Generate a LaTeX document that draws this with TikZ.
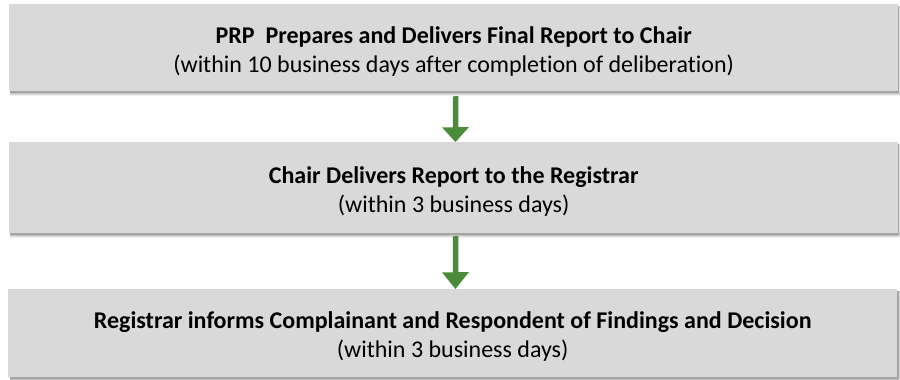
\documentclass[tikz,border=0pt]{standalone}
\usepackage{fontspec}
\setmainfont[Ligatures=NoCommon]{Carlito}
\usetikzlibrary{positioning}
\definecolor{boxgray}{HTML}{D9D9D9}
\definecolor{arrowgreen}{HTML}{4B8B3B}
\newcommand{\lowstrut}{\rule{0pt}{24pt}}
\begin{document}
\begin{tikzpicture}[x=1pt,y=-1pt,
  stagebox/.style={fill=boxgray, draw=none, inner sep=0pt, minimum width=889pt, anchor=north west,
     align=center, font=\fontsize{24}{29}\selectfont},
  flowarrow/.style={fill=arrowgreen, draw=none}]
\useasboundingbox (0,0) rectangle (900,380);
% shadows
\foreach \yt/\yb in {4/91,142/233,289/377}{
  \fill[black,opacity=0.06] (10,\yt+2) rectangle (901,\yb+5);
  \fill[black,opacity=0.08] (10,\yt+2) rectangle (900,\yb+4);
  \fill[black,opacity=0.12] (10,\yt+2) rectangle (899,\yb+3);
  \fill[black,opacity=0.15] (10,\yt+2) rectangle (898.5,\yb+2);
}
\node[stagebox, minimum height=87pt] (b1) at (9,4)
  {\lowstrut\textbf{PRP\ \ Prepares and Delivers Final Report to Chair}\\(within 10 business days after completion of deliberation)};
\node[stagebox, minimum height=91pt] (b2) at (9,142)
  {\lowstrut\textbf{Chair Delivers Report to the Registrar}\\(within 3 business days)};
\node[stagebox, minimum height=88pt] (b3) at (8,289)
  {\lowstrut\textbf{Registrar informs Complainant and Respondent of Findings and Decision}\\(within 3 business days)};
% arrows
\coordinate (a1s) at ([yshift=-5pt]b1.south -| 455.5,0);
\coordinate (a1e) at (b2.north -| 455.5,0);
\fill[flowarrow] (a1s) ++(-2.75,0) -- ++(0,31) -- ++(-10.75,0) -- (a1e) -- ++(13.5,-15) -- ++(-10.75,0) -- ++(0,-31) -- cycle;
\coordinate (a2s) at ([yshift=-3pt]b2.south -| 455.5,0);
\coordinate (a2e) at (b3.north -| 455.5,0);
\fill[flowarrow] (a2s) ++(-2.75,0) -- ++(0,36) -- ++(-10.75,0) -- (a2e) -- ++(13.5,-17) -- ++(-10.75,0) -- ++(0,-36) -- cycle;
\end{tikzpicture}
\end{document}
